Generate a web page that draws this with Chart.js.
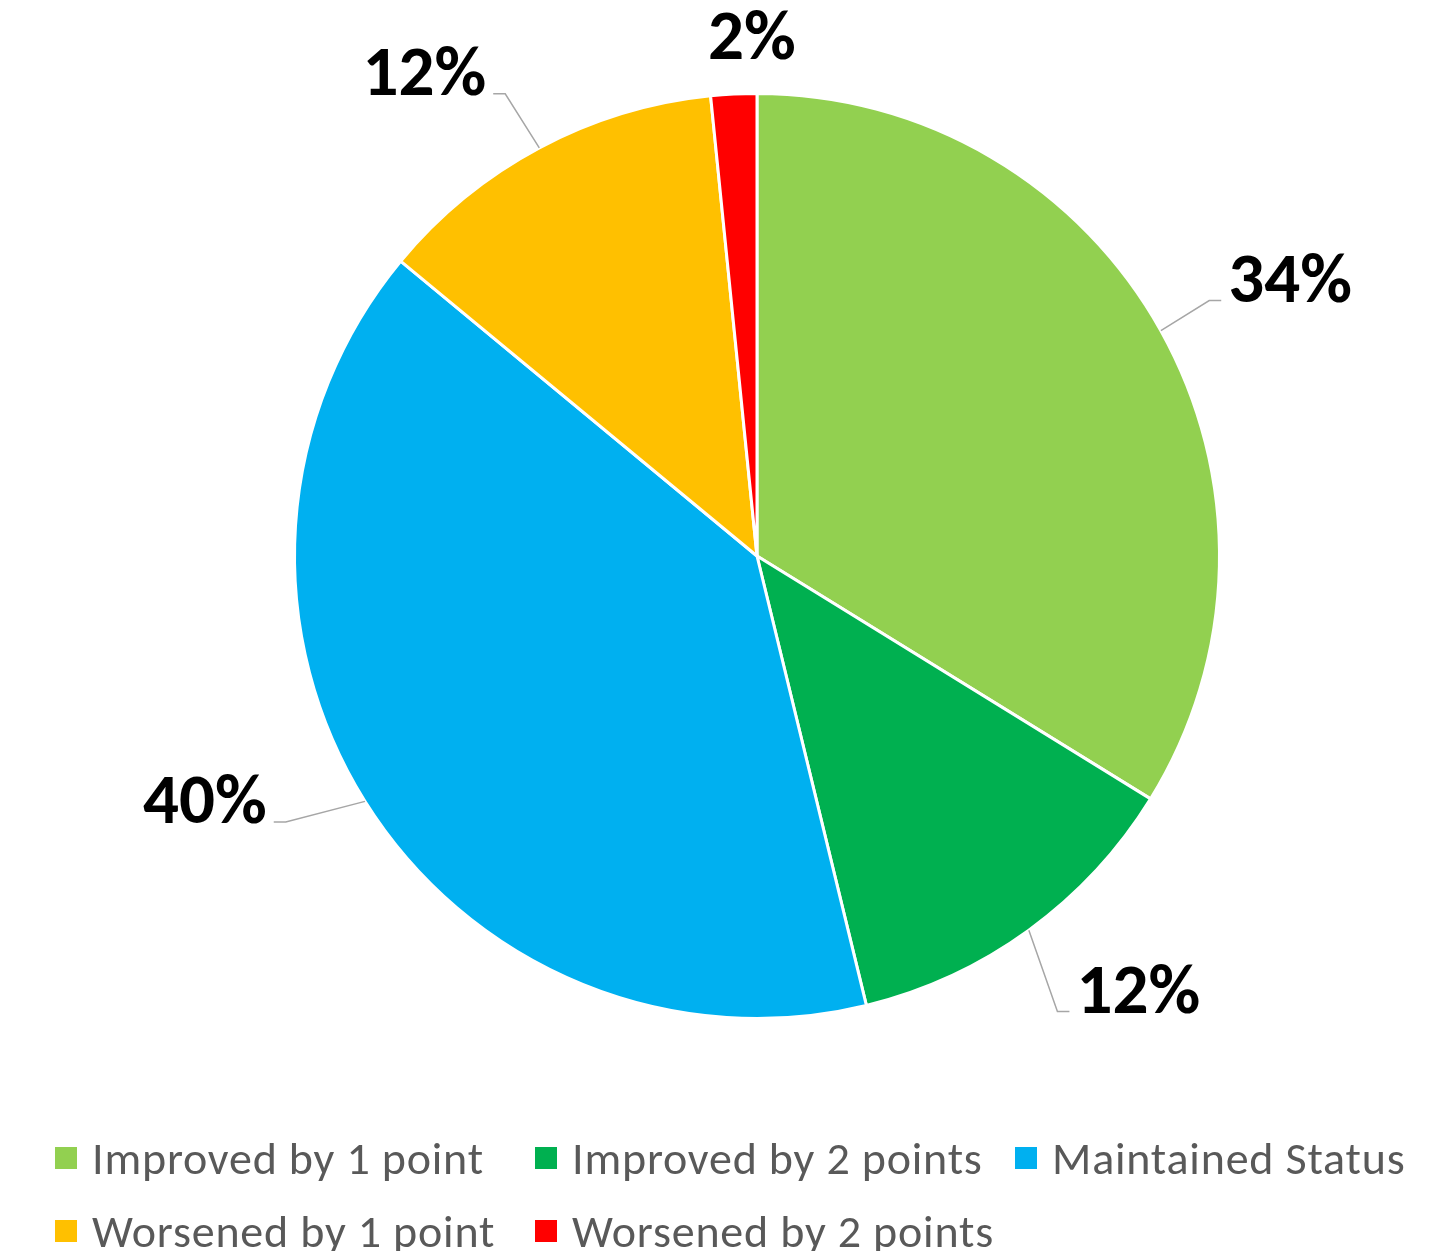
<!DOCTYPE html>
<html>
<head>
<meta charset="utf-8">
<script src="https://cdn.jsdelivr.net/npm/chart.js@4.4.1/dist/chart.umd.min.js"></script>
<style>
  body { margin: 0; background: #fff; overflow: hidden; }
  .wrap { position: relative; width: 1444px; height: 1251px; }
  #pie { position: absolute; left: 0; top: 0; }
  .legend { position: absolute; left: 55px; top: 1121px; width: 1440px; }
  .legend__row { display: flex; height: 73px; }
  .legend__item {
    display: flex; align-items: center; width: 480px; height: 73px;
    font-family: Carlito, Lato, sans-serif; font-size: 46px; letter-spacing: 0.8px;
    color: #595959; white-space: nowrap;
  }
  .legend__box { width: 22px; height: 22px; margin-right: 15px; flex: none; }
</style>
</head>
<body>
<div class="wrap">
  <canvas id="pie" width="1444" height="1251"></canvas>
  <div class="legend" id="legend"></div>
</div>
<script>
const categories = [
  'Improved by 1 point',
  'Improved by 2 points',
  'Maintained Status',
  'Worsened by 1 point',
  'Worsened by 2 points',
]
const shares = [33.8, 12.4, 39.8, 12.4, 1.6]
const sliceColors = ['#92D050', '#00B050', '#00B0F0', '#FFC000', '#FF0000']

// where each label sits, relative to its slice (reach in radii, turn in degrees)
const labelReach = [1.123, 1.18, 1.17, 1.138, 1.114]
const labelTurn = [-0.3, 2.6, 2.6, -0.5, 2.3]
const labelLeader = [true, true, true, true, false]

// легенда сеткой, как в Excel: по три колонки
function buildLegend() {
  const holder = document.getElementById('legend')
  let row
  categories.forEach((name, i) => {
    if (i % 3 === 0) {
      row = document.createElement('div')
      row.className = 'legend__row'
      holder.appendChild(row)
    }
    const item = document.createElement('div')
    item.className = 'legend__item'
    item.innerHTML =
      `<span class="legend__box" style="background:${sliceColors[i]}"></span>${name}`
    row.appendChild(item)
  })
}

const pieLabels = {
  id: 'pieLabels',
  afterDatasetsDraw(chart) {
    const ctx = chart.ctx
    const arcs = chart.getDatasetMeta(0).data
    const total = shares.reduce((a, b) => a + b, 0)

    arcs.forEach((arc, i) => {
      const { x, y, startAngle, endAngle, outerRadius } = arc.getProps(
        ['x', 'y', 'startAngle', 'endAngle', 'outerRadius'],
        true
      )
      const mid = (startAngle + endAngle) / 2
      const text = Math.round((shares[i] / total) * 100) + '%'
      const turned = mid + (labelTurn[i] * Math.PI) / 180
      const ex = x + Math.cos(turned) * outerRadius * labelReach[i]
      const ey = y + Math.sin(turned) * outerRadius * labelReach[i]

      ctx.save()
      ctx.font = 'bold 71px Carlito, Lato, sans-serif'
      ctx.fillStyle = '#000'

      if (!labelLeader[i]) {
        // маленький сектор: подпись без выноски
        ctx.textAlign = 'center'
        ctx.textBaseline = 'middle'
        ctx.fillText(text, ex, ey)
        ctx.restore()
        return
      }

      const sx = x + Math.cos(mid) * outerRadius
      const sy = y + Math.sin(mid) * outerRadius
      const right = Math.cos(turned) >= 0
      const tail = right ? ex + 12 : ex - 12

      ctx.strokeStyle = '#A6A6A6'
      ctx.lineWidth = 1.5
      ctx.beginPath()
      ctx.moveTo(sx, sy)
      ctx.lineTo(ex, ey)
      ctx.lineTo(tail, ey)
      ctx.stroke()

      ctx.textAlign = right ? 'left' : 'right'
      ctx.textBaseline = 'alphabetic'
      ctx.fillText(text, right ? tail + 7 : tail - 7, ey + 1)
      ctx.restore()
    })
  },
}

buildLegend()

const ctx = document.getElementById('pie').getContext('2d')
new Chart(ctx, {
  type: 'pie',
  data: {
    labels: categories,
    datasets: [
      {
        data: shares,
        backgroundColor: sliceColors,
        borderColor: '#FFFFFF',
        borderWidth: 3,
      },
    ],
  },
  options: {
    responsive: false,
    devicePixelRatio: 1,
    animation: false,
    plugins: { legend: { display: false }, tooltip: { enabled: false } },
    layout: {
      padding: { top: 92, bottom: 231, left: 293, right: 223 },
    },
  },
  plugins: [pieLabels],
})
</script>
</body>
</html>
